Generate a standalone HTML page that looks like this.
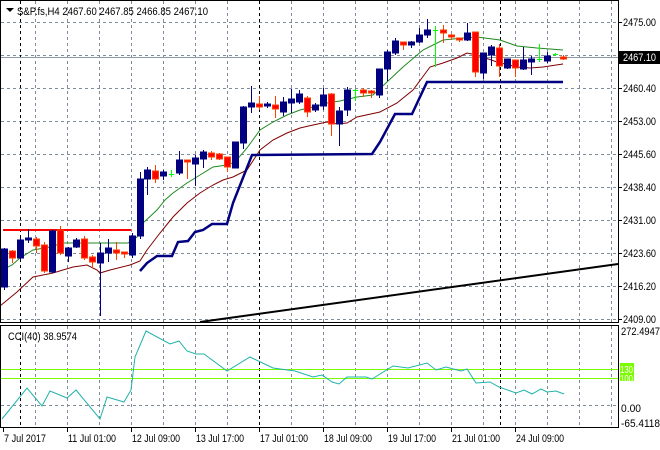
<!DOCTYPE html>
<html><head><meta charset="utf-8"><style>
html,body{margin:0;padding:0;background:#fff;}
svg{display:block;font-family:"Liberation Sans",sans-serif;font-size:11px;}
</style></head><body>
<svg id="s" width="660" height="450" xmlns="http://www.w3.org/2000/svg">
<rect width="660" height="450" fill="#fff"/>
<g id="grid"></g>
<g id="ind"></g>
<g id="cd"></g>
<g id="fr"></g>
</svg>
<script>
const NS="http://www.w3.org/2000/svg";
function el(p,t,a,txt){const e=document.createElementNS(NS,t);for(const k in a)e.setAttribute(k,a[k]);if(txt!=null)e.textContent=txt;document.getElementById(p).appendChild(e);return e;}
function tx(x,y,s,len,fill,fs){const a={x:x,y:y,fill:fill||'#000',textLength:len,lengthAdjust:'spacingAndGlyphs'};if(fs)a['font-size']=fs;return el('fr','text',a,s);}
const gy=[22,55,88,121,154,187,220,253,286,319];
gy.forEach(y=>el('grid','line',{x1:1,x2:618,y1:y+.5,y2:y+.5,stroke:'#7f8c99','stroke-dasharray':'3,3'}));
const vx=[];for(let x=35;x<618;x+=32)vx.push(x);
const blk=[20,259,500];
vx.forEach(x=>{if(Math.abs(x-259)<3||Math.abs(x-500)<10&&x>490)return;
 el('grid','line',{x1:x+.5,x2:x+.5,y1:1,y2:322,stroke:'#7f8c99','stroke-dasharray':'3,3'});
 el('grid','line',{x1:x+.5,x2:x+.5,y1:326,y2:428,stroke:'#7f8c99','stroke-dasharray':'3,3'});});
blk.forEach(x=>{el('grid','line',{x1:x+.5,x2:x+.5,y1:1,y2:322,stroke:'#000','stroke-dasharray':'3,3'});
 el('grid','line',{x1:x+.5,x2:x+.5,y1:326,y2:428,stroke:'#000','stroke-dasharray':'3,3'});});
el('grid','line',{x1:1,x2:618,y1:405.5,y2:405.5,stroke:'#7f8c99','stroke-dasharray':'3,3'});
el('grid','line',{x1:1,x2:618,y1:57.5,y2:57.5,stroke:'#8a9aa8'});
function pl(pts,c,w){el('ind','polyline',{points:pts.map(p=>p.join(',')).join(' '),fill:'none',stroke:c,'stroke-width':w});}
pl([[0,271],[12,265],[20,258],[33,250],[50,247],[63,243],[83,243],[128,243],[137,237],[143,223],[157,210],[165,200],[173,193],[187,183],[200,175],[213,167],[227,165],[235,162],[247,148],[260,130],[273,122],[287,115],[300,110],[313,107],[327,103],[340,101],[357,97],[373,95],[387,82],[403,67],[423,50],[443,40],[463,38],[477,37],[500,40],[517,46],[537,48],[563,50]],'#1f8a1f',1);
pl([[0,306],[17,292],[33,277],[43,275],[53,273],[73,267],[87,265],[97,270],[100,273],[110,270],[130,265],[140,261],[147,250],[160,233],[173,217],[187,203],[200,193],[213,185],[223,180],[233,177],[247,170],[260,150],[273,140],[287,133],[300,128],[313,125],[327,122],[337,124],[347,123],[357,117],[380,112],[397,103],[413,90],[430,67],[443,63],[457,58],[467,53],[477,55],[497,62],[517,67],[530,68],[543,67],[563,64]],'#800000',1);
pl([[140,271],[147,263],[157,256],[172,256],[178,242],[188,241],[195,232],[203,230],[212,224],[227,224],[233,203],[252,155],[372,154],[380,142],[395,114],[412,114],[427,82],[563,82]],'#000080',2.5);
el('ind','line',{x1:3,x2:131,y1:230,y2:230,stroke:'#ff0000','stroke-width':2});
el('ind','line',{x1:200,x2:618,y1:322,y2:264,stroke:'#000','stroke-width':2});
const C=[
[4,287,249,248,290],[12,251,258,250,263],[20,258,240,238,260],[28,239,238,229,243],[36,239,246,237,253],[44,245,271,242,273],[52,272,231,230,273],[60,230,253,226,255],[68,256,248,247,262],[76,247,240,238,248],[84,239,258,236,260],[92,257,262,255,268],[100,263,253,243,316],[108,253,248,239,262],[116,250,253,242,260],[124,252,253,252,258],[132,255,236,233,258],
[140,236,179,172,239],[147,179,170,167,195],[155,171,179,165,183],[163,176,172,170,180],[171,174,174,170,177],[179,173,160,151,175],[187,160,161,160,179],[195,164,158,155,186],[203,159,152,150,168],[211,153,157,151,160],[219,154,159,153,160],[227,157,167,157,172],[235,168,142,142,168],[243,143,107,106,149],[251,107,103,86,113],[259,104,107,96,110],[267,106,104,102,108],[275,105,109,96,118],[283,112,102,97,116],[291,103,99,89,113],[299,102,94,90,104],[307,98,112,96,117],[315,110,105,103,112],[323,106,95,88,110],[331,94,124,93,136],
[339,124,111,107,146],[347,110,90,87,116],[355,90,90,89,101],[363,90,93,88,97],[371,91,93,90,98],[379,95,69,69,98],[387,69,52,50,81],[395,53,41,38,55],[403,42,45,42,50],[411,45,42,41,48],[419,42,35,28,43],[427,35,30,19,38],[435,30,30,26,67],[443,30,33,25,43],[451,35,37,34,40],[459,38,40,38,42],[467,40,33,23,41],[475,32,72,32,77],[483,73,53,53,79],[491,55,47,45,66],[499,48,66,44,77],[507,68,59,59,69],[515,60,68,60,77],[523,69,60,47,70],[531,62,59,56,75],[539,59,59,44,62],[547,61,56,52,63],[555,54,54,53,56],[563,57,59,55,60]];
C.forEach(([x,o,c,h,l])=>{
 const bull=c<o, doji=Math.abs(c-o)<1;
 let col='#00ff00';
 el('cd','line',{x1:x+.5,x2:x+.5,y1:h,y2:l,stroke:doji?col:(bull?'#000080':'#ff4000')});
 if(doji){el('cd','line',{x1:x-2,x2:x+3,y1:o+.5,y2:o+.5,stroke:col});}
 else{const t=Math.min(o,c),b=Math.max(o,c);
  el('cd','rect',{x:x-2.5,y:t,width:6,height:Math.max(b-t,2),fill:bull?'#000080':'#ff0000',stroke:bull?'#000080':'#ff4000'});}
});
el('ind','line',{x1:1,x2:618,y1:369.5,y2:369.5,stroke:'#7cfc00'});
el('ind','line',{x1:1,x2:618,y1:378.5,y2:378.5,stroke:'#7cfc00'});
pl([[2,419],[27,388],[42,406],[50,391],[67,398],[76,390],[100,419],[107,397],[124,402],[131,390],[135,357],[146,331],[170,344],[179,341],[187,351],[196,354],[204,354],[227,371],[250,357],[273,368],[295,371],[313,377],[322,375],[332,382],[339,384],[347,377],[366,377],[372,379],[393,366],[408,368],[427,363],[436,370],[446,367],[461,371],[467,369],[476,383],[490,382],[499,387],[516,393],[524,390],[532,394],[541,389],[547,392],[556,391],[564,394]],'#20b2aa',1);
el('fr','rect',{x:.5,y:.5,width:618,height:322,fill:'none',stroke:'#000'});
el('fr','rect',{x:.5,y:325.5,width:618,height:102,fill:'none',stroke:'#000'});
el('fr','polygon',{points:'6,8 14,8 10,12',fill:'#000'});
tx(17,15,'S&P.fs,H4  2467.60 2467.85 2466.85 2467.10',191);
tx(8,340,'CCI(40) 38.9574',69);
[[2475.00,22],[2460.40,88],[2453.00,121],[2445.60,154],[2438.40,187],[2431.00,220],[2423.60,253],[2416.20,286],[2409.00,319]].forEach(([v,y])=>{
 el('fr','line',{x1:618,x2:622,y1:y+.5,y2:y+.5,stroke:'#000'});
 tx(623,y+4,v.toFixed(2),33);});
el('fr','rect',{x:619,y:51,width:41,height:13,fill:'#000'});
tx(623,61,'2467.10',33,'#fff');
tx(621,335,'272.4947',39);
el('fr','rect',{x:620,y:363,width:14,height:18,fill:'#7cfc00'});
tx(620,373,'130',13,'#fff','10px');
tx(620,382,'100',13,'#fff','10px');
tx(621,412,'0.00',20);
tx(621,427,'-65.4118',39);
[['7 Jul 2017',3,42],['11 Jul 01:00',67,48],['12 Jul 09:00',131,48],['13 Jul 17:00',195,48],['17 Jul 01:00',259,48],['18 Jul 09:00',323,48],['19 Jul 17:00',387,48],['21 Jul 01:00',451,48],['24 Jul 09:00',515,48]].forEach(([t,x,w])=>{
 el('fr','line',{x1:x+.5,x2:x+.5,y1:428,y2:432,stroke:'#000'});
 tx(x+1,442,t,w);});
</script>
</body></html>
